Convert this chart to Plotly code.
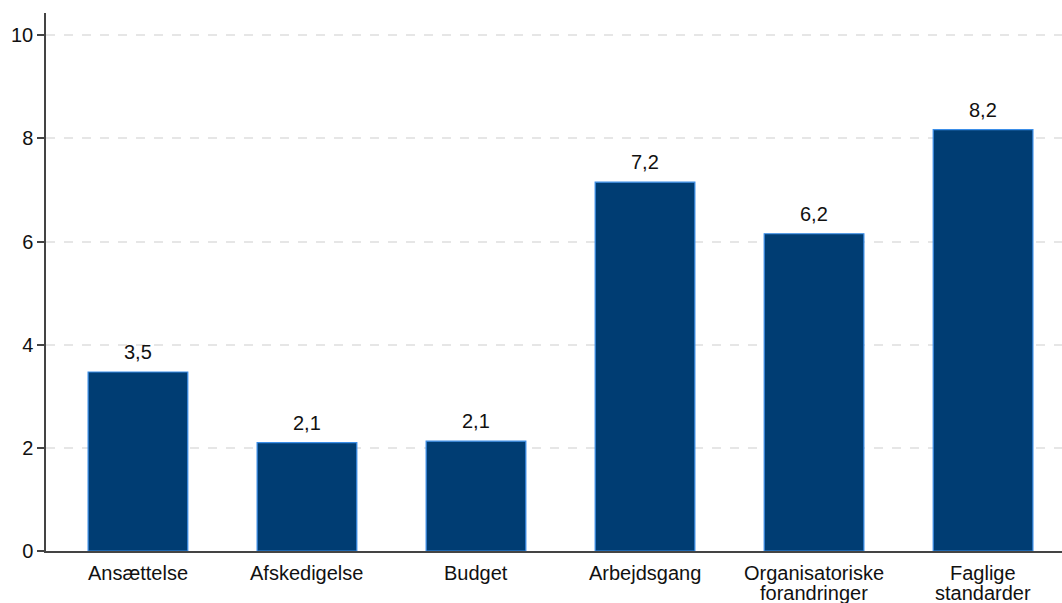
import plotly.graph_objects as go

# Andel (gennemsnit) pr. område
categories = ["Ansættelse", "Afskedigelse", "Budget", "Arbejdsgang",
              "Organisatoriske<br>forandringer", "Faglige<br>standarder"]
values = [3.47, 2.10, 2.13, 7.15, 6.15, 8.17]
y_ticks = [0, 2, 4, 6, 8, 10]

FONT = "Arial, Liberation Sans, sans-serif"
positions = list(range(len(categories)))

fig = go.Figure(
    go.Bar(
        x=positions,
        y=values,
        width=0.59,
        marker=dict(color="#003d73", line=dict(color="#3b8ee8", width=1.2)),
    )
)

# Værdietiketter over søjlerne
for xi, v in zip(positions, values):
    fig.add_annotation(
        x=xi, y=v,
        text=f"{v:.1f}".replace(".", ","),
        showarrow=False,
        yanchor="bottom",
        yshift=7,
        font=dict(family=FONT, size=20, color="#111111"),
    )

# Kategorinavne under aksen, med tæt linjeafstand
for xi, name in zip(positions, categories):
    for li, line in enumerate(name.split("<br>")):
        fig.add_annotation(
            x=xi, xref="x",
            y=0, yref="paper",
            text=line,
            showarrow=False,
            yanchor="middle",
            yshift=-22 - 20 * li,
            font=dict(family=FONT, size=20, color="#111111"),
        )

fig.update_layout(
    width=1062,
    height=603,
    margin=dict(l=46, r=0, t=13, b=52),
    paper_bgcolor="white",
    plot_bgcolor="white",
    separators=",.",
    showlegend=False,
    font=dict(family=FONT, size=20, color="#111111"),
)

fig.update_xaxes(
    tickmode="array",
    tickvals=positions,
    range=[-0.544, 5.467],
    automargin=False,
    showticklabels=False,
    showgrid=False,
    showline=True,
    linecolor="#444444",
    linewidth=1.5,
    ticks="",
    zeroline=False,
)

fig.update_yaxes(
    tickmode="array",
    tickvals=y_ticks,
    range=[0, 10.43],
    automargin=False,
    showgrid=True,
    gridcolor="#e6e6e6",
    griddash="dash",
    gridwidth=1.5,
    showline=True,
    linecolor="#444444",
    linewidth=1.5,
    ticks="outside",
    ticklen=7,
    tickwidth=1.5,
    tickcolor="#444444",
    tickfont=dict(family=FONT, size=20, color="#111111"),
    zeroline=False,
)

fig.write_html("out.html")
